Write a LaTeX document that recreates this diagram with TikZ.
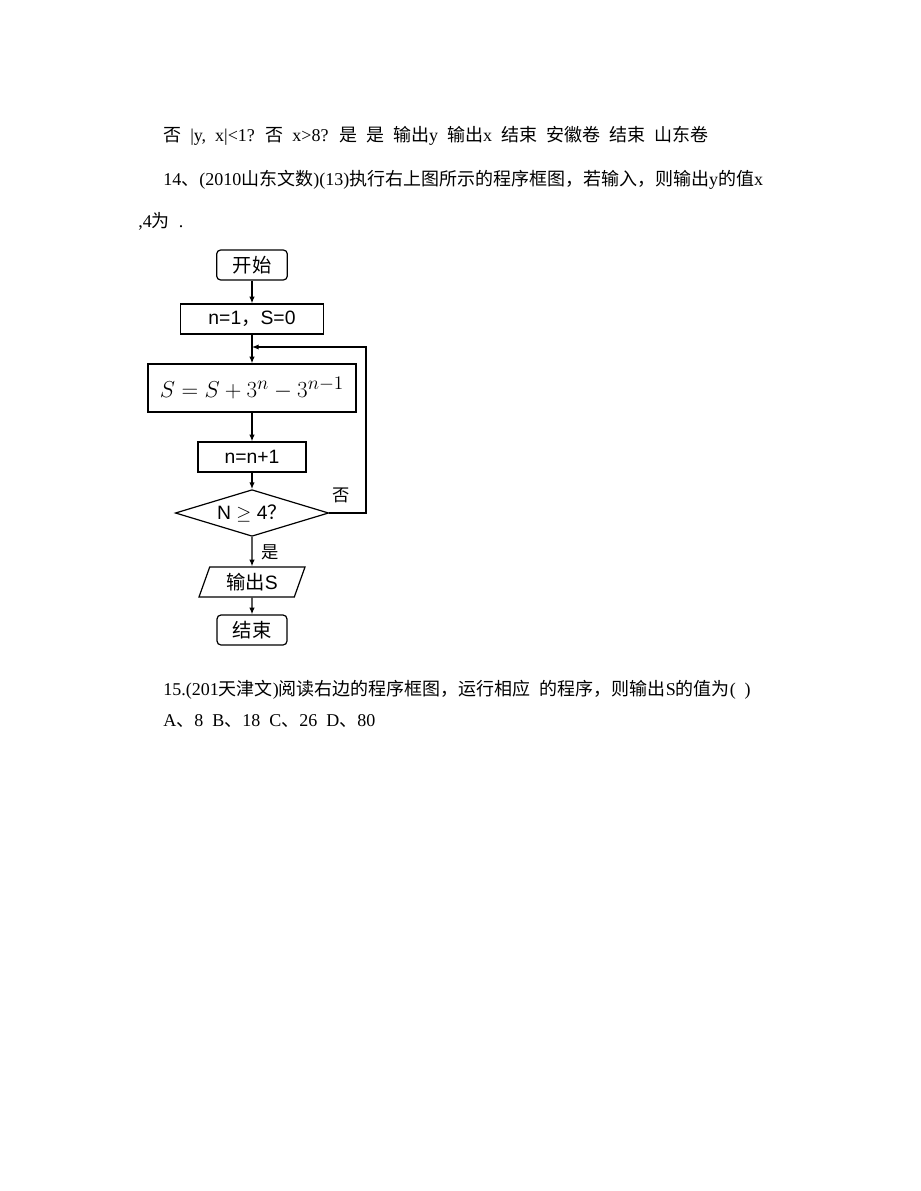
\documentclass[tikz,border=0pt]{standalone}
\usepackage[no-math]{fontspec}
\usepackage{amsmath,amsfonts}
\setmainfont{Liberation Sans}
\newfontfamily\cjk{Noto Sans CJK SC}
\newfontfamily\hw{Liberation Serif}[WordSpace=2]
\usetikzlibrary{shapes.geometric,arrows.meta}

\begin{document}
\begin{tikzpicture}[x=0.75pt,y=-0.75pt,
  line/.style={anchor=west,inner sep=0pt,font=\hw\fontsize{13.5}{16}\selectfont},
  box/.style={draw,line width=0.9pt,inner sep=0pt,minimum height=22.5pt,font=\fontsize{14.5}{17}\selectfont},
  term/.style={box,rounded corners=3pt},
  cond/.style={box,diamond,aspect=3.3,minimum width=115pt,minimum height=35pt},
  io/.style={box,trapezium,trapezium left angle=59,trapezium right angle=121,trapezium stretches body,minimum width=79.5pt},
  arr/.style={line width=0.9pt,-{Latex[length=5pt,width=4pt]}}]
\useasboundingbox (0,0) rectangle (920,1191);

\node[line] at (163,136) (l1) {{\cjk 否} |y, x|<1? {\cjk 否} x>8? {\cjk 是} {\cjk 是} {\cjk 输出}y {\cjk 输出}x {\cjk 结束} {\cjk 安徽卷} {\cjk 结束} {\cjk 山东卷}};
\node[line] at (163,180) (l2) {14{\cjk 、}(2010{\cjk 山东文数})(13){\cjk 执行右上图所示的程序框图，若输入，则输出}y{\cjk 的值}x};
\node[line] at (138,221) (l3) {,4{\cjk 为} .};
\node[line] at (163,690) (q15) {15.(201{\cjk 天津文}){\cjk 阅读右边的程序框图，运行相应} {\cjk 的程序，则输出}S{\cjk 的值为}( )};
\node[line] at (163,721) (ans) {A{\cjk 、}8 B{\cjk 、}18 C{\cjk 、}26 D{\cjk 、}80};

\node[term,minimum width=53pt] at (252,265) (start) {\cjk 开始};
\node[box,minimum width=107pt] at (252,319) (init) {n=1{\cjk ，}S=0};
\node[box,minimum width=156pt,minimum height=36pt] at (252,388) (sum) {\fontsize{19}{23}\selectfont $S=S+3^n-3^{n-1}$};
\node[box,minimum width=81pt] at (252,457) (inc) {n=n+1};
\node[cond] at (252,513) (test) {N $\geq$ 4{\cjk ？}};
\node[io] at (252,582) (out) {{\cjk 输出}S};
\node[term,minimum width=52.5pt] at (252,630) (stop) {\cjk 结束};
\coordinate (join) at (252,347);
\coordinate (corner) at (366,347);

\node[font=\cjk\fontsize{13}{15}\selectfont] at (341,495) (no) {否};
\node[font=\cjk\fontsize{13}{15}\selectfont] at (270,552) (yes) {是};

\draw[arr] (start) -- (init);
\draw[arr] (init) -- (sum);
\draw[arr] (sum) -- (inc);
\draw[arr] (inc) -- (test);
\draw[arr] (test) -- (out);
\draw[arr] (out) -- (stop);
\draw[arr] (test.east) -| (corner) -- (join);
\end{tikzpicture}
\end{document}
